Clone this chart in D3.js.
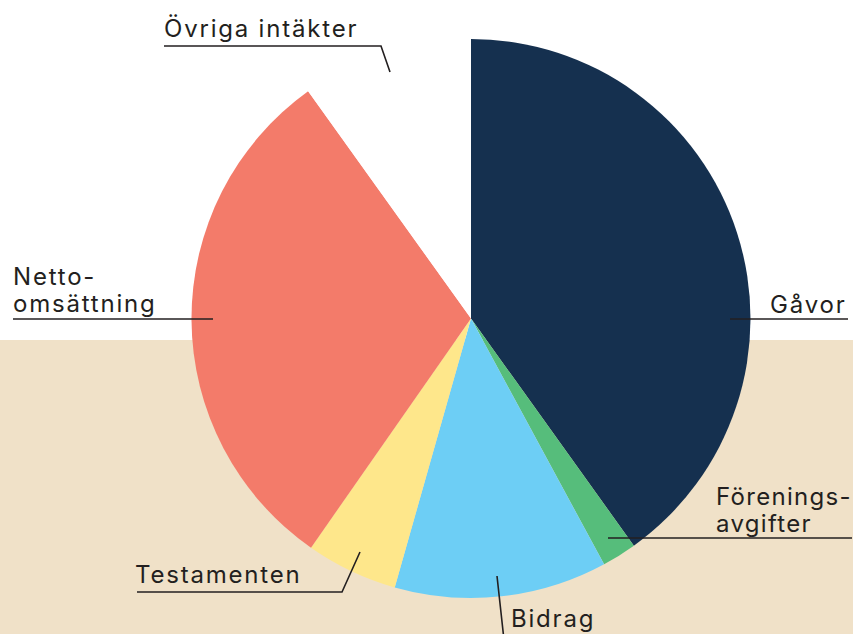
<!DOCTYPE html>
<html><head><meta charset="utf-8">
<script src="https://cdn.jsdelivr.net/npm/d3@7"></script>
<style>html,body{margin:0;padding:0;background:#fff;}svg{display:block;}</style>
</head><body>
<script>
const categories = ["Gåvor","Föreningsavgifter","Bidrag","Testamenten","Nettoomsättning","Övriga intäkter"];
const values = [40.1, 2.0, 12.3, 5.3, 30.4, 9.9];
const colors = ["#15304f","#56bd7b","#6dcef5","#fee78b","#f37b6a","#ffffff"];
const labelLines = [["Gåvor"],["Förenings-","avgifter"],["Bidrag"],["Testamenten"],["Netto-","omsättning"],["Övriga intäkter"]];

const W = 853, H = 634;
const cx = 471, cy = 318.5, R = 279.5;
const svg = d3.select("body").append("svg").attr("width", W).attr("height", H);
svg.append("rect").attr("width", W).attr("height", H).attr("fill", "#fff");
svg.append("rect").attr("y", 340).attr("width", W).attr("height", H - 340).attr("fill", "#f0e1c8");

const pie = d3.pie().sort(null).value(d => d)(values);
const arc = d3.arc().innerRadius(0).outerRadius(R);
const g = svg.append("g").attr("transform", `translate(${cx},${cy})`);
g.selectAll("path").data(pie).join("path").attr("d", arc).attr("fill", (d, i) => colors[i]);

// leader-line layout (screen coords) and label placement
const layout = [
  {pts: [[730,319],[848,319]], tx: 770, ty: [313], ls: 1.8},
  {pts: [[608,538],[852,538]], tx: 716, ty: [505,532], ls: 1.3},
  {pts: [[497,576],[504,640],[600,640]], tx: 511, ty: [627], ls: 1.8},
  {pts: [[360,552],[342,592],[137,592]], tx: 135, ty: [583], ls: 1.8},
  {pts: [[213,319],[13,319]], tx: 13, ty: [285,312], ls: 1.8},
  {pts: [[390,72],[381,46],[164,46]], tx: 164, ty: [37], ls: 1.8}
];
const line = d3.line();
layout.forEach((L, i) => {
  svg.append("path").attr("d", line(L.pts)).attr("fill", "none")
    .attr("stroke", "#231f20").attr("stroke-width", 1.6);
  labelLines[i].forEach((t, j) => {
    svg.append("text").attr("x", L.tx).attr("y", L.ty[j])
      .attr("font-family", "Inter, sans-serif").attr("font-size", 24)
      .attr("letter-spacing", L.ls).attr("fill", "#231f20").text(t);
  });
});
</script>
</body></html>
